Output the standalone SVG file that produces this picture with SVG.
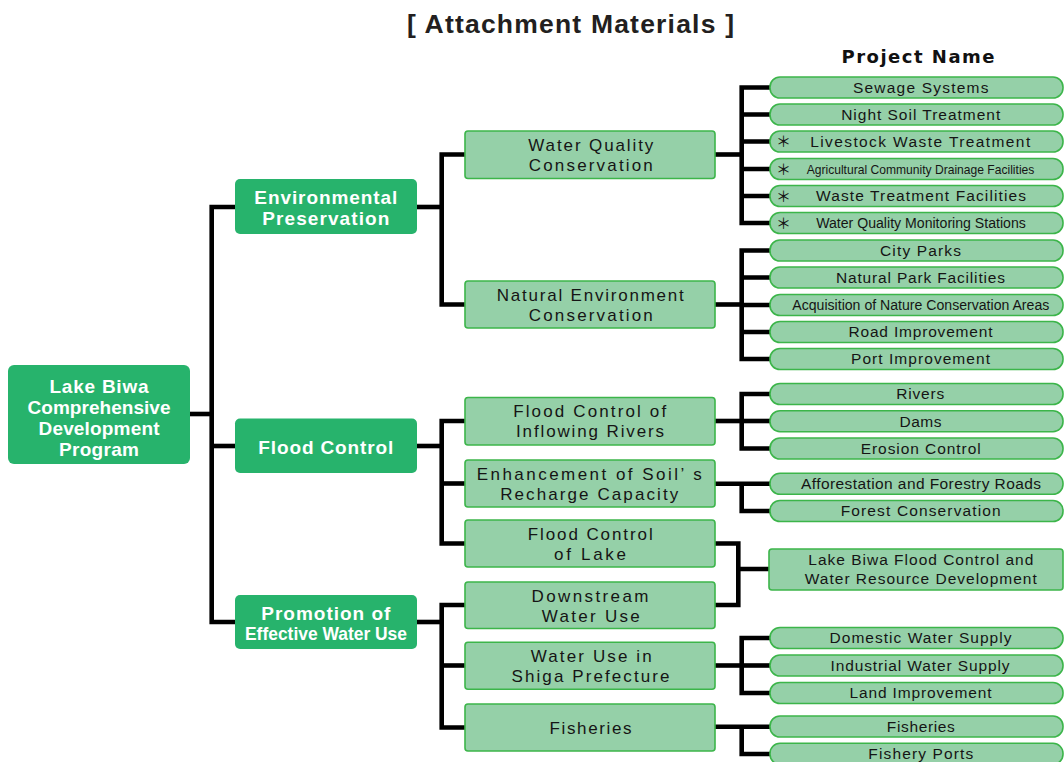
<svg xmlns="http://www.w3.org/2000/svg" width="1064" height="762" viewBox="0 0 1064 762">
<style>
text{font-family:"Liberation Sans",Arial,sans-serif;text-anchor:middle}
.dk{fill:#27b36c}
.lt{fill:#95d0a8;stroke:#3cb54a;stroke-width:1.6}
.wt{fill:#fff;font-weight:bold;font-size:19px}
.l2t{fill:#151515;font-size:17px}
.pt{fill:#151515;font-size:15.5px}
.nt{fill:#151515;font-size:14px}
.ast{fill:#151515;font-size:15px;font-family:"Noto Sans CJK JP","Liberation Sans",sans-serif}
.con{stroke:#000;stroke-width:4.6;fill:none;stroke-linejoin:miter;stroke-linecap:butt}
</style>
<defs>
<rect id="pill" x="770" y="-10.5" width="293" height="21" rx="10" ry="10"/>
</defs>
<rect width="1064" height="762" fill="#fff"/>
<g id="title">
<text x="570.5" y="33" font-size="26.5" font-weight="bold" fill="#231f20" textLength="327">[ Attachment Materials ]</text>
<text x="918" y="63" font-size="18" font-weight="bold" fill="#111" style="font-family:'DejaVu Sans',sans-serif" textLength="153">Project Name</text>
</g>
<g id="connectors" class="con">
<path d="M190,414 H211.7"/>
<path d="M237,207 H211.7 V622 H237"/>
<path d="M211.7,446 H237"/>
<path d="M417,207 H441.7"/>
<path d="M467,154.5 H441.7 V304.5 H467"/>
<path d="M417,446 H441.7"/>
<path d="M467,421 H441.7 V543.5 H467"/>
<path d="M441.7,483.5 H467"/>
<path d="M417,622 H441.7"/>
<path d="M467,605 H441.7 V727.5 H467"/>
<path d="M441.7,665.5 H467"/>
<path d="M713,154.5 H741.7"/>
<path d="M773,87.5 H741.7 V223 H773"/>
<path d="M741.7,114.5 H773 M741.7,141.5 H773 M741.7,169 H773 M741.7,196 H773"/>
<path d="M713,304.5 H741.7"/>
<path d="M773,250.5 H741.7 V359 H773"/>
<path d="M741.7,277.5 H773 M741.7,305 H773 M741.7,332 H773"/>
<path d="M713,421 H741.7"/>
<path d="M773,394 H741.7 V448.5 H773"/>
<path d="M741.7,421 H773"/>
<path d="M713,483.8 H773"/>
<path d="M741.7,483.8 V511 H773"/>
<path d="M713,543.5 H738.3 V605 H713"/>
<path d="M738.3,569 H771"/>
<path d="M713,665.5 H741.7"/>
<path d="M773,638 H741.7 V693 H773"/>
<path d="M741.7,665.5 H773"/>
<path d="M713,726.8 H773"/>
<path d="M741.7,726.8 V754 H773"/>
</g>
<g id="root">
<rect class="dk" x="8" y="365" width="182" height="99" rx="6"/>
<text class="wt" x="99" y="392.7" textLength="99">Lake Biwa</text>
<text class="wt" x="99" y="413.7" textLength="143">Comprehensive</text>
<text class="wt" x="99" y="434.7" textLength="121">Development</text>
<text class="wt" x="99" y="455.7" textLength="80">Program</text>
</g>
<g id="env">
<rect class="dk" x="235" y="179" width="182" height="55" rx="5"/>
<text class="wt" x="325.8" y="204" textLength="143">Environmental</text>
<text class="wt" x="325.8" y="225" textLength="127">Preservation</text>
</g>
<g id="flood">
<rect class="dk" x="235" y="418.5" width="182" height="54.5" rx="5"/>
<text class="wt" x="325.8" y="454.3" textLength="135">Flood Control</text>
</g>
<g id="promo">
<rect class="dk" x="235" y="595" width="182" height="54" rx="5"/>
<text class="wt" x="325.8" y="620" textLength="129">Promotion of</text>
<text class="wt" x="326" y="640" textLength="162" lengthAdjust="spacingAndGlyphs">Effective Water Use</text>
</g>
<g id="wqc">
<rect class="lt" x="465" y="131" width="250" height="47.5" rx="3"/>
<text class="l2t" x="590.8" y="151" textLength="125">Water Quality</text>
<text class="l2t" x="590.8" y="170.8" textLength="124">Conservation</text>
</g>
<g id="nec">
<rect class="lt" x="465" y="281" width="250" height="47" rx="3"/>
<text class="l2t" x="590.3" y="300.8" textLength="187">Natural Environment</text>
<text class="l2t" x="590.8" y="320.8" textLength="124">Conservation</text>
</g>
<g id="fcir">
<rect class="lt" x="465" y="397.5" width="250" height="47.5" rx="3"/>
<text class="l2t" x="589.7" y="417.3" textLength="153">Flood Control of</text>
<text class="l2t" x="590" y="437.3" textLength="148">Inflowing Rivers</text>
</g>
<g id="enh">
<rect class="lt" x="465" y="460" width="250" height="47" rx="3"/>
<text class="l2t" x="589.2" y="480" textLength="225">Enhancement of Soil’ s</text>
<text class="l2t" x="589.2" y="499.6" textLength="178">Recharge Capacity</text>
</g>
<g id="fcl">
<rect class="lt" x="465" y="520" width="250" height="47" rx="3"/>
<text class="l2t" x="590.2" y="540" textLength="125">Flood Control</text>
<text class="l2t" x="590" y="559.6" textLength="72">of Lake</text>
</g>
<g id="dwu">
<rect class="lt" x="465" y="582" width="250" height="46.5" rx="3"/>
<text class="l2t" x="590" y="601.7" textLength="117">Downstream</text>
<text class="l2t" x="590.8" y="621.5" textLength="98">Water Use</text>
</g>
<g id="shiga">
<rect class="lt" x="465" y="642.3" width="250" height="47" rx="3"/>
<text class="l2t" x="591.2" y="661.8" textLength="121">Water Use in</text>
<text class="l2t" x="590.5" y="681.8" textLength="158">Shiga Prefecture</text>
</g>
<g id="fish">
<rect class="lt" x="465" y="704" width="250" height="47" rx="3"/>
<text class="l2t" x="590.5" y="734" textLength="82">Fisheries</text>
</g>
<g id="p-sewage" transform="translate(0,87.5)"><use href="#pill" class="lt"/><text class="pt" x="920.7" y="5.3" textLength="135.6">Sewage Systems</text></g>
<g id="p-nightsoil" transform="translate(0,114.5)"><use href="#pill" class="lt"/><text class="pt" x="920.7" y="5.3" textLength="159">Night Soil Treatment</text></g>
<g id="p-livestock" transform="translate(0,141.5)"><use href="#pill" class="lt"/><text class="ast" x="783.5" y="5.5">＊</text><text class="pt" x="920.2" y="5.3" textLength="220">Livestock Waste Treatment</text></g>
<g id="p-agri" transform="translate(0,169)"><use href="#pill" class="lt"/><text class="ast" x="783.5" y="5.5">＊</text><text x="920.5" y="4.7" fill="#151515" font-size="12.6" textLength="227.7" lengthAdjust="spacingAndGlyphs">Agricultural Community Drainage Facilities</text></g>
<g id="p-waste" transform="translate(0,196)"><use href="#pill" class="lt"/><text class="ast" x="783.5" y="5.5">＊</text><text class="pt" x="921" y="5.3" textLength="210">Waste Treatment Facilities</text></g>
<g id="p-wqm" transform="translate(0,223)"><use href="#pill" class="lt"/><text class="ast" x="783.5" y="5.5">＊</text><text class="nt" x="921" y="5" textLength="209.7" lengthAdjust="spacingAndGlyphs">Water Quality Monitoring Stations</text></g>
<g id="p-city" transform="translate(0,250.5)"><use href="#pill" class="lt"/><text class="pt" x="920.5" y="5.3" textLength="81">City Parks</text></g>
<g id="p-natpark" transform="translate(0,277.5)"><use href="#pill" class="lt"/><text class="pt" x="920.5" y="5.3" textLength="169">Natural Park Facilities</text></g>
<g id="p-acq" transform="translate(0,305)"><use href="#pill" class="lt"/><text class="nt" x="920.8" y="5" textLength="257" lengthAdjust="spacingAndGlyphs">Acquisition of Nature Conservation Areas</text></g>
<g id="p-road" transform="translate(0,332)"><use href="#pill" class="lt"/><text class="pt" x="920.5" y="5.3" textLength="144">Road Improvement</text></g>
<g id="p-port" transform="translate(0,359)"><use href="#pill" class="lt"/><text class="pt" x="920.5" y="5.3" textLength="139">Port Improvement</text></g>
<g id="p-rivers" transform="translate(0,394)"><use href="#pill" class="lt"/><text class="pt" x="920.2" y="5.3" textLength="48">Rivers</text></g>
<g id="p-dams" transform="translate(0,421.2)"><use href="#pill" class="lt"/><text class="pt" x="920.5" y="5.3" textLength="42">Dams</text></g>
<g id="p-erosion" transform="translate(0,448.5)"><use href="#pill" class="lt"/><text class="pt" x="920.7" y="5.3" textLength="120">Erosion Control</text></g>
<g id="p-affor" transform="translate(0,483.8)"><use href="#pill" class="lt"/><text class="pt" x="921" y="5.3" textLength="240">Afforestation and Forestry Roads</text></g>
<g id="p-forest" transform="translate(0,511)"><use href="#pill" class="lt"/><text class="pt" x="920.7" y="5.3" textLength="160">Forest Conservation</text></g>
<g id="p-lakebiwa">
<rect class="lt" x="769" y="549" width="294" height="41" rx="3"/>
<text class="pt" x="920.8" y="565" textLength="225">Lake Biwa Flood Control and</text>
<text class="pt" x="920.8" y="584.3" textLength="232">Water Resource Development</text>
</g>
<g id="p-domestic" transform="translate(0,638)"><use href="#pill" class="lt"/><text class="pt" x="920.5" y="5.3" textLength="182">Domestic Water Supply</text></g>
<g id="p-industrial" transform="translate(0,665.5)"><use href="#pill" class="lt"/><text class="pt" x="920" y="5.3" textLength="179">Industrial Water Supply</text></g>
<g id="p-land" transform="translate(0,693)"><use href="#pill" class="lt"/><text class="pt" x="920.5" y="5.3" textLength="142">Land Improvement</text></g>
<g id="p-fisheries" transform="translate(0,726.5)"><use href="#pill" class="lt"/><text class="pt" x="920.8" y="5.3" textLength="68">Fisheries</text></g>
<g id="p-fishports" transform="translate(0,753.8)"><use href="#pill" class="lt"/><text class="pt" x="920.8" y="5.3" textLength="105">Fishery Ports</text></g>
</svg>
